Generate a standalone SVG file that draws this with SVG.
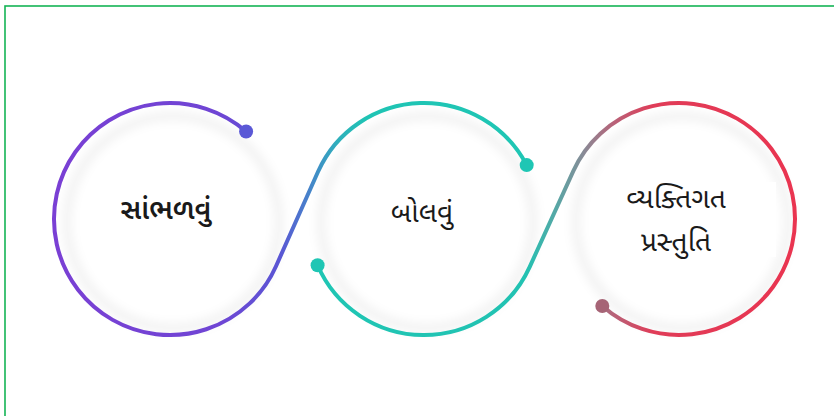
<svg xmlns="http://www.w3.org/2000/svg" width="834" height="416" viewBox="0 0 834 416">
<defs>
<linearGradient id="g1" gradientUnits="userSpaceOnUse" x1="50" y1="0" x2="530" y2="0">
<stop offset="0" stop-color="#7a3fd4"/>
<stop offset="0.35" stop-color="#6f45d4"/>
<stop offset="0.48" stop-color="#5a56d4"/>
<stop offset="0.53" stop-color="#4a7ccc"/>
<stop offset="0.6" stop-color="#2fb0bc"/>
<stop offset="0.66" stop-color="#1fc4b4"/>
<stop offset="1" stop-color="#1fc6b4"/>
</linearGradient>
<linearGradient id="g2" gradientUnits="userSpaceOnUse" x1="310" y1="0" x2="800" y2="0">
<stop offset="0" stop-color="#1fc6b4"/>
<stop offset="0.44" stop-color="#22c2b2"/>
<stop offset="0.5" stop-color="#55a8a6"/>
<stop offset="0.56" stop-color="#8a8a96"/>
<stop offset="0.62" stop-color="#b86278"/>
<stop offset="0.7" stop-color="#e03c58"/>
<stop offset="1" stop-color="#ea3450"/>
</linearGradient>
<filter id="soft" x="-20%" y="-20%" width="140%" height="140%">
<feGaussianBlur stdDeviation="5"/>
</filter>
<style>
.ring{fill:none;stroke-width:4;stroke-linecap:round}
.shadow{fill:none;stroke:#000;stroke-opacity:0.05;stroke-width:9}
.lbl{font-family:"Noto Sans Gujarati","Lohit Gujarati","Shruti","Noto Sans",sans-serif;font-size:28px;fill:#1a1a1a;text-anchor:middle}
.box{fill:#fff}
</style>
</defs>
<rect x="5" y="6" width="840" height="420" fill="#fff" stroke="#14b455" stroke-width="1.6"/>
<g id="shadows" filter="url(#soft)">
<circle class="shadow" cx="173" cy="222" r="106"/>
<circle class="shadow" cx="427" cy="222" r="106"/>
<circle class="shadow" cx="682" cy="222" r="106"/>
</g>
<g id="connectors">
<path class="ring" stroke="url(#g1)" d="M246.1,131.5 A116,116 0 1 0 276,266.2 L318,171.8 A116,116 0 0 1 526.7,165.1"/>
<path class="ring" stroke="url(#g2)" d="M317.6,265.3 A116,116 0 0 0 529.6,267.1 L573.4,170.9 A116,116 0 1 1 602.3,306"/>
<circle cx="246.1" cy="131.5" r="7" fill="#5a58d6"/>
<circle cx="526.7" cy="165.1" r="7" fill="#1fc6b4"/>
<circle cx="317.6" cy="265.3" r="7" fill="#1fc6b4"/>
<circle cx="602.3" cy="306" r="7" fill="#a66476"/>
</g>
<g id="node-listen">
<text class="lbl" x="166" y="219" font-size="25" font-weight="600">સાંભળવું</text>
</g>
<g id="node-speak">
<text class="lbl" x="422" y="222">બોલવું</text>
</g>
<g id="node-presentation">
<rect class="box" x="600" y="182" width="176" height="75"/>
<text class="lbl" x="676" y="208">વ્યક્તિગત</text>
<text class="lbl" x="676" y="251">પ્રસ્તુતિ</text>
</g>
</svg>
